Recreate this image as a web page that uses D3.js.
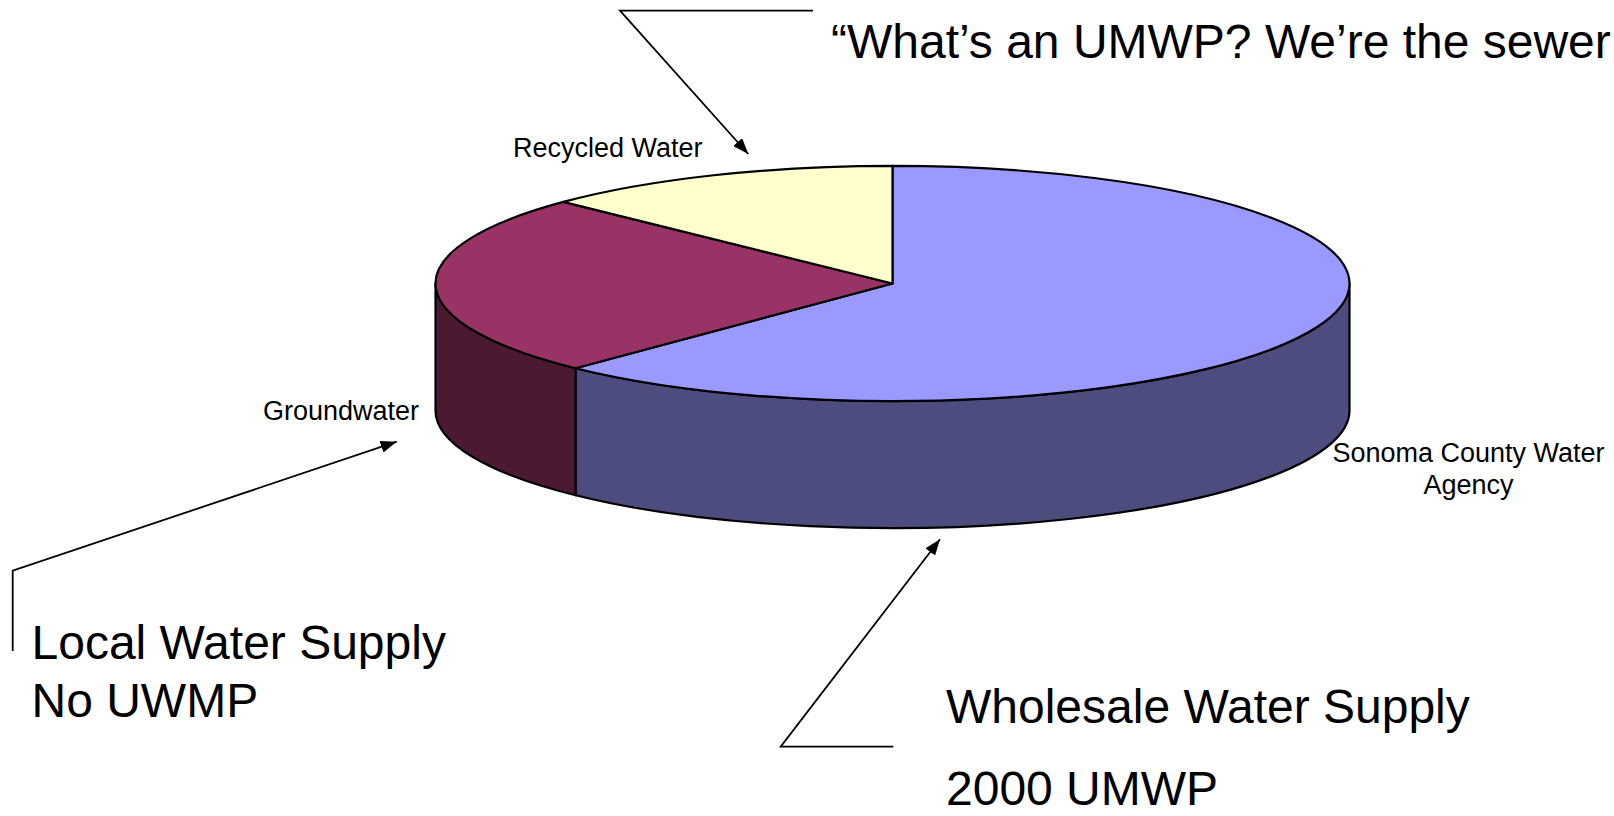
<!DOCTYPE html>
<html>
<head>
<meta charset="utf-8">
<script src="https://cdn.jsdelivr.net/npm/d3@7"></script>
<style>
  html, body { margin: 0; padding: 0; background: #fff; }
  svg { display: block; font-family: 'Liberation Sans', Arial, sans-serif; }
</style>
</head>
<body>
<div id="chart"></div>
<script>
// slice data, clockwise from 12 o'clock (share of supply, %)
const categories = ['Sonoma County Water Agency', 'Groundwater', 'Recycled Water']
const values = [62.2, 25.0, 12.8]
const topColors = ['#9999ff', '#993366', '#ffffcc']
const sideColors = ['#4c4c7f', '#4c1933', '#7f7f66']

const width = 1614
const height = 816

// 3d pie geometry
const cx = 892.5
const cy = 283.5
const rx = 457
const ry = 117.6
const depth = 127

const svg = d3.select('#chart').append('svg')
  .attr('width', width)
  .attr('height', height)
  .attr('viewBox', [0, 0, width, height])

const defs = svg.append('defs')
defs.append('marker')
  .attr('id', 'arrow')
  .attr('viewBox', '0 0 16 12')
  .attr('refX', 16)
  .attr('refY', 6)
  .attr('markerWidth', 16)
  .attr('markerHeight', 12)
  .attr('markerUnits', 'userSpaceOnUse')
  .attr('orient', 'auto')
  .append('path')
  .attr('d', 'M0,0L16,6L0,12Z')
  .attr('fill', '#000')

const pie = d3.pie().sort(null).value(d => d)
const arcs = pie(values)

const pt = (a, dy = 0) => [cx + rx * Math.sin(a), cy - ry * Math.cos(a) + dy]

const topPath = d => {
  const [x0, y0] = pt(d.startAngle)
  const [x1, y1] = pt(d.endAngle)
  const large = d.endAngle - d.startAngle > Math.PI ? 1 : 0
  return `M${cx},${cy}L${x0},${y0}A${rx},${ry} 0 ${large} 1 ${x1},${y1}Z`
}

// only the front half of the rim is visible
const sidePath = d => {
  const s = Math.max(d.startAngle, Math.PI / 2)
  const e = Math.min(d.endAngle, Math.PI * 3 / 2)
  if (s >= e) return null
  const [x0, y0] = pt(s)
  const [x1, y1] = pt(e)
  return `M${x0},${y0}A${rx},${ry} 0 0 1 ${x1},${y1}` +
    `L${x1},${y1 + depth}A${rx},${ry} 0 0 0 ${x0},${y0 + depth}Z`
}

const g = svg.append('g')

g.selectAll('path.side')
  .data(arcs.filter(sidePath))
  .join('path')
  .attr('class', 'side')
  .attr('d', sidePath)
  .attr('fill', d => sideColors[d.index])
  .attr('stroke', '#000')
  .attr('stroke-width', 2.2)
  .attr('stroke-linejoin', 'round')

g.selectAll('path.top')
  .data(arcs)
  .join('path')
  .attr('class', 'top')
  .attr('d', topPath)
  .attr('fill', d => topColors[d.index])
  .attr('stroke', '#000')
  .attr('stroke-width', 2.2)
  .attr('stroke-linejoin', 'round')

// slice labels
const labelPos = [
  { x: 1468.5, y: 462, anchor: 'middle', lines: ['Sonoma County Water', 'Agency'] },
  { x: 263, y: 420, anchor: 'start', lines: ['Groundwater'] },
  { x: 513, y: 156.5, anchor: 'start', lines: ['Recycled Water'] }
]

svg.append('g')
  .selectAll('text')
  .data(labelPos)
  .join('text')
  .attr('x', d => d.x)
  .attr('y', d => d.y)
  .attr('text-anchor', d => d.anchor)
  .attr('font-size', 27)
  .attr('fill', '#000')
  .selectAll('tspan')
  .data(d => d.lines.map((t, i) => ({ t, i, x: d.x })))
  .join('tspan')
  .attr('x', d => d.x)
  .attr('dy', d => d.i ? 32 : 0)
  .text(d => d.t)

// callouts
const callouts = [
  { pts: [[813, 10.7], [620, 10.7], [748.3, 154]] },
  { pts: [[12.7, 651], [12.7, 570.7], [396.7, 441.7]] },
  { pts: [[893.3, 746.7], [780.7, 746.7], [940, 539.3]] }
]

svg.append('g')
  .selectAll('path')
  .data(callouts)
  .join('path')
  .attr('d', d => d3.line()(d.pts))
  .attr('fill', 'none')
  .attr('stroke', '#000')
  .attr('stroke-width', 1.8)
  .attr('marker-end', 'url(#arrow)')

const notes = [
  { x: 831, y: 57.5, lines: ['\u201cWhat\u2019s an UMWP? We\u2019re the sewer'], gap: 0 },
  { x: 31.5, y: 659.3, lines: ['Local Water Supply', 'No UWMP'], gap: 57.4 },
  { x: 946, y: 723.3, lines: ['Wholesale Water Supply', '2000 UMWP'], gap: 82 }
]

svg.append('g')
  .selectAll('text')
  .data(notes)
  .join('text')
  .attr('x', d => d.x)
  .attr('y', d => d.y)
  .attr('font-size', 48)
  .attr('fill', '#000')
  .selectAll('tspan')
  .data(d => d.lines.map((t, i) => ({ t, i, x: d.x, gap: d.gap })))
  .join('tspan')
  .attr('x', d => d.x)
  .attr('dy', d => d.i ? d.gap : 0)
  .text(d => d.t)
</script>
</body>
</html>
